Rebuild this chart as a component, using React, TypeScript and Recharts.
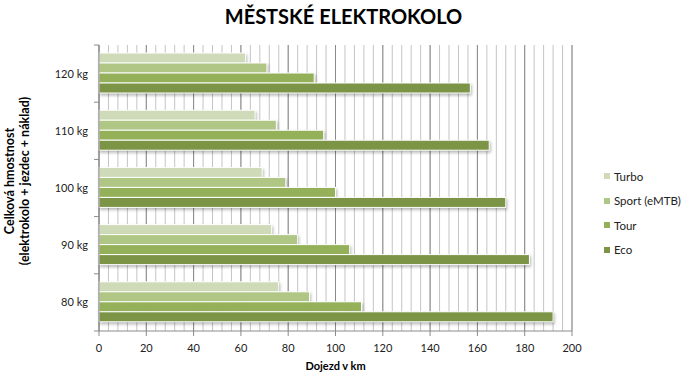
import { BarChart, Bar, XAxis, YAxis, CartesianGrid } from 'recharts'

const CATEGORIES = ['120 kg', '110 kg', '100 kg', '90 kg', '80 kg']
const TURBO = [62, 66, 69, 73, 76]
const SPORT = [71, 75, 79, 84, 89]
const TOUR = [91, 95, 100, 106, 111]
const ECO = [157, 165, 172, 182, 192]

const X_MAX = 200
const MAJOR_TICKS = [0, 20, 40, 60, 80, 100, 120, 140, 160, 180, 200]
const MINOR_TICKS = Array.from({ length: 51 }, (_, i) => i * 4)

const SERIES = [
  { key: 'turbo', name: 'Turbo', color: '#cfdbb8' },
  { key: 'sport', name: 'Sport (eMTB)', color: '#afc685' },
  { key: 'tour', name: 'Tour', color: '#94b15a' },
  { key: 'eco', name: 'Eco', color: '#7b9446' },
]

const data = CATEGORIES.map((c, i) => ({
  name: c,
  turbo: TURBO[i],
  sport: SPORT[i],
  tour: TOUR[i],
  eco: ECO[i],
}))

const FONT = 'Lato, "Open Sans", sans-serif'
const AXIS = '#8a8a8a'

const W = 687
const H = 379
const MARGIN = { top: 45, right: 115, bottom: 28, left: 0 }
const X_AXIS_H = 20
const PLOT_H = H - MARGIN.top - MARGIN.bottom - X_AXIS_H

// eslint-disable-next-line @typescript-eslint/no-explicit-any
const ShadowBar = (props: any) => {
  const { x, y, width, height, fill } = props
  if (!width || width <= 0) return null
  return (
    <rect
      x={x}
      y={y}
      width={width}
      height={height}
      fill={fill}
      stroke="#ffffff"
      strokeWidth={1}
      style={{ filter: 'drop-shadow(1.5px 2px 1.5px rgba(0,0,0,0.28))' }}
    />
  )
}

// eslint-disable-next-line @typescript-eslint/no-explicit-any
const minorLines = ({ xAxis, offset }: any) =>
  MINOR_TICKS.map(t =>
    xAxis && typeof xAxis.scale === 'function'
      ? xAxis.scale(t)
      : offset.left + (t / X_MAX) * offset.width
  )

// category label plus tick marks on the band edges (Excel style)
// eslint-disable-next-line @typescript-eslint/no-explicit-any
const CatTick = (props: any) => {
  const { x, y, payload, index } = props
  const half = PLOT_H / CATEGORIES.length / 2
  const ax = x + 11
  return (
    <g>
      <line x1={ax - 5} x2={ax} y1={y - half} y2={y - half} stroke={AXIS} />
      {index === CATEGORIES.length - 1 && (
        <line x1={ax - 5} x2={ax} y1={y + half} y2={y + half} stroke={AXIS} />
      )}
      <text x={x} y={y} dy="0.355em" textAnchor="end" fill="#222" fontSize={11} fontFamily={FONT}>
        {payload.value}
      </text>
    </g>
  )
}

export default function App() {
  return (
    <div
      style={{
        position: 'absolute',
        left: 0,
        top: 0,
        width: W,
        height: H,
        background: '#ffffff',
        fontFamily: FONT,
      }}
    >
      <div
        style={{
          position: 'absolute',
          left: 0,
          width: W,
          top: 4,
          textAlign: 'center',
          fontSize: 20,
          fontWeight: 700,
          color: '#000',
        }}
      >
        MĚSTSKÉ ELEKTROKOLO
      </div>

      <BarChart
        width={W}
        height={H}
        data={data}
        layout="vertical"
        margin={MARGIN}
        barCategoryGap="14%"
        barGap={0}
      >
        <CartesianGrid
          horizontal={false}
          verticalCoordinatesGenerator={minorLines}
          stroke="#c4c4c4"
          strokeWidth={1}
        />
        <CartesianGrid horizontal={false} stroke={AXIS} strokeWidth={1} />
        <XAxis
          type="number"
          domain={[0, X_MAX]}
          ticks={MAJOR_TICKS}
          height={X_AXIS_H}
          tickSize={5}
          tickMargin={8}
          stroke={AXIS}
          tick={{ fill: '#222', fontSize: 11, fontFamily: FONT }}
          interval={0}
        />
        <YAxis
          type="category"
          dataKey="name"
          width={99}
          tickLine={false}
          tickSize={5}
          tickMargin={6}
          stroke={AXIS}
          tick={CatTick}
        />
        {SERIES.map(s => (
          <Bar
            key={s.key}
            dataKey={s.key}
            name={s.name}
            fill={s.color}
            shape={ShadowBar}
            isAnimationActive={false}
          />
        ))}
      </BarChart>

      <div
        style={{
          position: 'absolute',
          left: 99,
          width: 473,
          top: 359,
          textAlign: 'center',
          fontSize: 11,
          fontWeight: 700,
          color: '#000',
        }}
      >
        Dojezd v km
      </div>

      <div
        style={{
          position: 'absolute',
          left: 17,
          top: 181,
          width: 0,
          height: 0,
        }}
      >
        <div
          style={{
            position: 'absolute',
            left: -120,
            top: -15,
            width: 240,
            textAlign: 'center',
            fontSize: 12.5,
            fontWeight: 700,
            lineHeight: '15px',
            color: '#000',
            transform: 'rotate(-90deg)',
            whiteSpace: 'nowrap',
          }}
        >
          Celková hmostnost
          <br />
          (elektrokolo + jezdec + náklad)
        </div>
      </div>

      <div style={{ position: 'absolute', left: 604, top: 164 }}>
        {SERIES.map(s => (
          <div
            key={s.key}
            style={{
              display: 'flex',
              alignItems: 'center',
              height: 24.5,
              fontSize: 11.5,
              color: '#222',
            }}
          >
            <div style={{ width: 6, height: 6, background: s.color, marginRight: 4 }} />
            {s.name}
          </div>
        ))}
      </div>
    </div>
  )
}
